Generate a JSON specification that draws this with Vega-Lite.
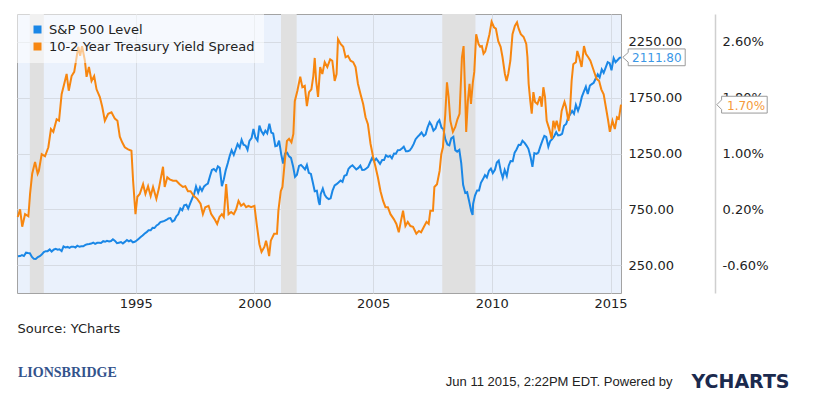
{
  "$schema": "https://vega.github.io/schema/vega-lite/v6.json",
  "width": 604,
  "height": 279,
  "autosize": {"type": "none"},
  "padding": {"left": 17, "top": 14, "right": 206, "bottom": 106},
  "background": "white",
  "config": {
    "view": {"fill": "#eaf1fc", "stroke": "#a3a3a3", "strokeWidth": 1},
    "font": "DejaVu Sans"
  },
  "title": {
    "text": "LIONSBRIDGE",
    "orient": "top",
    "anchor": "start",
    "frame": "group",
    "offset": 0,
    "dx": 1,
    "dy": 366,
    "font": "Liberation Serif",
    "fontSize": 14,
    "fontWeight": "bold",
    "color": "#33538c"
  },
  "datasets": {
    "recessions": [
      {"start": 1990.54, "end": 1991.13},
      {"start": 2001.12, "end": 2001.78},
      {"start": 2007.91, "end": 2009.31}
    ],
    "sp": [
      {"t":1990.04,"v":329},{"t":1990.13,"v":331},{"t":1990.21,"v":339},{"t":1990.29,"v":331},{"t":1990.38,"v":361},{"t":1990.46,"v":358},{"t":1990.54,"v":356},{"t":1990.63,"v":323},{"t":1990.71,"v":306},{"t":1990.79,"v":304},{"t":1990.88,"v":322},{"t":1990.96,"v":330},
      {"t":1991.04,"v":344},{"t":1991.13,"v":367},{"t":1991.21,"v":375},{"t":1991.29,"v":375},{"t":1991.38,"v":390},{"t":1991.46,"v":371},{"t":1991.54,"v":388},{"t":1991.63,"v":395},{"t":1991.71,"v":388},{"t":1991.79,"v":392},{"t":1991.88,"v":375},{"t":1991.96,"v":417},
      {"t":1992.04,"v":409},{"t":1992.13,"v":413},{"t":1992.21,"v":404},{"t":1992.29,"v":415},{"t":1992.38,"v":415},{"t":1992.46,"v":408},{"t":1992.54,"v":424},{"t":1992.63,"v":414},{"t":1992.71,"v":418},{"t":1992.79,"v":419},{"t":1992.88,"v":431},{"t":1992.96,"v":436},
      {"t":1993.04,"v":439},{"t":1993.13,"v":443},{"t":1993.21,"v":452},{"t":1993.29,"v":440},{"t":1993.38,"v":450},{"t":1993.46,"v":451},{"t":1993.54,"v":448},{"t":1993.63,"v":464},{"t":1993.71,"v":459},{"t":1993.79,"v":468},{"t":1993.88,"v":462},{"t":1993.96,"v":466},
      {"t":1994.04,"v":482},{"t":1994.13,"v":467},{"t":1994.21,"v":446},{"t":1994.29,"v":451},{"t":1994.38,"v":457},{"t":1994.46,"v":444},{"t":1994.54,"v":458},{"t":1994.63,"v":475},{"t":1994.71,"v":463},{"t":1994.79,"v":472},{"t":1994.88,"v":454},{"t":1994.96,"v":459},
      {"t":1995.04,"v":470},{"t":1995.13,"v":487},{"t":1995.21,"v":501},{"t":1995.29,"v":515},{"t":1995.38,"v":533},{"t":1995.46,"v":545},{"t":1995.54,"v":562},{"t":1995.63,"v":562},{"t":1995.71,"v":584},{"t":1995.79,"v":582},{"t":1995.88,"v":605},{"t":1995.96,"v":616},
      {"t":1996.04,"v":636},{"t":1996.13,"v":641},{"t":1996.21,"v":646},{"t":1996.29,"v":654},{"t":1996.38,"v":669},{"t":1996.46,"v":671},{"t":1996.54,"v":640},{"t":1996.63,"v":652},{"t":1996.71,"v":687},{"t":1996.79,"v":705},{"t":1996.88,"v":757},{"t":1996.96,"v":741},
      {"t":1997.04,"v":786},{"t":1997.13,"v":791},{"t":1997.21,"v":757},{"t":1997.29,"v":801},{"t":1997.38,"v":848},{"t":1997.46,"v":885},{"t":1997.54,"v":954},{"t":1997.63,"v":899},{"t":1997.71,"v":947},{"t":1997.79,"v":915},{"t":1997.88,"v":955},{"t":1997.96,"v":970},
      {"t":1998.04,"v":980},{"t":1998.13,"v":1049},{"t":1998.21,"v":1102},{"t":1998.29,"v":1112},{"t":1998.38,"v":1091},{"t":1998.46,"v":1134},{"t":1998.54,"v":1121},{"t":1998.63,"v":957},{"t":1998.71,"v":1017},{"t":1998.79,"v":1099},{"t":1998.88,"v":1164},{"t":1998.96,"v":1229},
      {"t":1999.04,"v":1280},{"t":1999.13,"v":1238},{"t":1999.21,"v":1286},{"t":1999.29,"v":1335},{"t":1999.38,"v":1302},{"t":1999.46,"v":1373},{"t":1999.54,"v":1329},{"t":1999.63,"v":1320},{"t":1999.71,"v":1283},{"t":1999.79,"v":1363},{"t":1999.88,"v":1389},{"t":1999.96,"v":1469},
      {"t":2000.04,"v":1394},{"t":2000.13,"v":1366},{"t":2000.21,"v":1499},{"t":2000.29,"v":1452},{"t":2000.38,"v":1421},{"t":2000.46,"v":1455},{"t":2000.54,"v":1431},{"t":2000.63,"v":1518},{"t":2000.71,"v":1437},{"t":2000.79,"v":1429},{"t":2000.88,"v":1315},{"t":2000.96,"v":1320},
      {"t":2001.04,"v":1366},{"t":2001.13,"v":1240},{"t":2001.21,"v":1160},{"t":2001.29,"v":1249},{"t":2001.38,"v":1256},{"t":2001.46,"v":1224},{"t":2001.54,"v":1211},{"t":2001.63,"v":1134},{"t":2001.71,"v":1041},{"t":2001.79,"v":1060},{"t":2001.88,"v":1139},{"t":2001.96,"v":1148},
      {"t":2002.04,"v":1130},{"t":2002.13,"v":1107},{"t":2002.21,"v":1147},{"t":2002.29,"v":1077},{"t":2002.38,"v":1067},{"t":2002.46,"v":990},{"t":2002.54,"v":912},{"t":2002.63,"v":916},{"t":2002.71,"v":815},{"t":2002.75,"v":790},{"t":2002.79,"v":886},{"t":2002.88,"v":936},{"t":2002.96,"v":880},
      {"t":2003.04,"v":856},{"t":2003.13,"v":841},{"t":2003.21,"v":848},{"t":2003.29,"v":917},{"t":2003.38,"v":964},{"t":2003.46,"v":975},{"t":2003.54,"v":990},{"t":2003.63,"v":1008},{"t":2003.71,"v":996},{"t":2003.79,"v":1051},{"t":2003.88,"v":1058},{"t":2003.96,"v":1112},
      {"t":2004.04,"v":1131},{"t":2004.13,"v":1145},{"t":2004.21,"v":1126},{"t":2004.29,"v":1107},{"t":2004.38,"v":1121},{"t":2004.46,"v":1141},{"t":2004.54,"v":1102},{"t":2004.63,"v":1104},{"t":2004.71,"v":1115},{"t":2004.79,"v":1130},{"t":2004.88,"v":1174},{"t":2004.96,"v":1212},
      {"t":2005.04,"v":1181},{"t":2005.13,"v":1204},{"t":2005.21,"v":1181},{"t":2005.29,"v":1157},{"t":2005.38,"v":1192},{"t":2005.46,"v":1191},{"t":2005.54,"v":1234},{"t":2005.63,"v":1220},{"t":2005.71,"v":1229},{"t":2005.79,"v":1207},{"t":2005.88,"v":1249},{"t":2005.96,"v":1248},
      {"t":2006.04,"v":1280},{"t":2006.13,"v":1281},{"t":2006.21,"v":1295},{"t":2006.29,"v":1311},{"t":2006.38,"v":1270},{"t":2006.46,"v":1270},{"t":2006.54,"v":1277},{"t":2006.63,"v":1304},{"t":2006.71,"v":1336},{"t":2006.79,"v":1378},{"t":2006.88,"v":1401},{"t":2006.96,"v":1418},
      {"t":2007.04,"v":1438},{"t":2007.13,"v":1407},{"t":2007.21,"v":1421},{"t":2007.29,"v":1482},{"t":2007.38,"v":1531},{"t":2007.46,"v":1503},{"t":2007.54,"v":1455},{"t":2007.63,"v":1474},{"t":2007.71,"v":1527},{"t":2007.79,"v":1549},{"t":2007.88,"v":1481},{"t":2007.96,"v":1468},
      {"t":2008.04,"v":1379},{"t":2008.13,"v":1331},{"t":2008.21,"v":1323},{"t":2008.29,"v":1386},{"t":2008.38,"v":1400},{"t":2008.46,"v":1280},{"t":2008.54,"v":1267},{"t":2008.63,"v":1283},{"t":2008.71,"v":1165},{"t":2008.79,"v":969},{"t":2008.88,"v":896},{"t":2008.96,"v":903},
      {"t":2009.04,"v":826},{"t":2009.13,"v":735},{"t":2009.19,"v":700},{"t":2009.21,"v":798},{"t":2009.29,"v":873},{"t":2009.38,"v":919},{"t":2009.46,"v":919},{"t":2009.54,"v":987},{"t":2009.63,"v":1021},{"t":2009.71,"v":1057},{"t":2009.79,"v":1036},{"t":2009.88,"v":1096},{"t":2009.96,"v":1115},
      {"t":2010.04,"v":1074},{"t":2010.13,"v":1104},{"t":2010.21,"v":1169},{"t":2010.29,"v":1187},{"t":2010.38,"v":1089},{"t":2010.46,"v":1031},{"t":2010.54,"v":1102},{"t":2010.63,"v":1049},{"t":2010.71,"v":1141},{"t":2010.79,"v":1183},{"t":2010.88,"v":1181},{"t":2010.96,"v":1258},
      {"t":2011.04,"v":1286},{"t":2011.13,"v":1327},{"t":2011.21,"v":1326},{"t":2011.29,"v":1364},{"t":2011.38,"v":1345},{"t":2011.46,"v":1321},{"t":2011.54,"v":1292},{"t":2011.63,"v":1219},{"t":2011.71,"v":1131},{"t":2011.79,"v":1253},{"t":2011.88,"v":1247},{"t":2011.96,"v":1258},
      {"t":2012.04,"v":1312},{"t":2012.13,"v":1366},{"t":2012.21,"v":1408},{"t":2012.29,"v":1398},{"t":2012.38,"v":1310},{"t":2012.46,"v":1362},{"t":2012.54,"v":1379},{"t":2012.63,"v":1407},{"t":2012.71,"v":1441},{"t":2012.79,"v":1412},{"t":2012.88,"v":1416},{"t":2012.96,"v":1426},
      {"t":2013.04,"v":1498},{"t":2013.13,"v":1515},{"t":2013.21,"v":1569},{"t":2013.29,"v":1598},{"t":2013.38,"v":1631},{"t":2013.46,"v":1606},{"t":2013.54,"v":1686},{"t":2013.63,"v":1633},{"t":2013.71,"v":1682},{"t":2013.79,"v":1757},{"t":2013.88,"v":1806},{"t":2013.96,"v":1848},
      {"t":2014.04,"v":1783},{"t":2014.13,"v":1859},{"t":2014.21,"v":1872},{"t":2014.29,"v":1884},{"t":2014.38,"v":1924},{"t":2014.46,"v":1960},{"t":2014.54,"v":1931},{"t":2014.63,"v":2003},{"t":2014.71,"v":1972},{"t":2014.79,"v":2018},{"t":2014.88,"v":2068},{"t":2014.96,"v":2059},
      {"t":2015.04,"v":1995},{"t":2015.13,"v":2105},{"t":2015.21,"v":2068},{"t":2015.29,"v":2086},{"t":2015.38,"v":2107},{"t":2015.44,"v":2111.8}
    ],
    "spread": [
      {"t":1990.03,"v":0.09},{"t":1990.13,"v":0.20},{"t":1990.22,"v":-0.05},{"t":1990.34,"v":0.13},{"t":1990.48,"v":0.10},{"t":1990.55,"v":0.42},{"t":1990.64,"v":0.71},{"t":1990.76,"v":0.88},{"t":1990.87,"v":0.71},{"t":1990.92,"v":0.75},
      {"t":1991.04,"v":0.99},{"t":1991.18,"v":0.96},{"t":1991.32,"v":1.09},{"t":1991.43,"v":1.35},{"t":1991.53,"v":1.31},{"t":1991.67,"v":1.49},{"t":1991.77,"v":1.47},{"t":1991.88,"v":1.85},{"t":1991.99,"v":2.00},
      {"t":1992.09,"v":2.14},{"t":1992.18,"v":1.90},{"t":1992.30,"v":2.11},{"t":1992.41,"v":2.17},{"t":1992.51,"v":2.38},{"t":1992.58,"v":2.53},{"t":1992.66,"v":2.40},{"t":1992.74,"v":2.54},{"t":1992.86,"v":2.33},{"t":1992.93,"v":2.10},
      {"t":1993.03,"v":2.24},{"t":1993.14,"v":2.04},{"t":1993.25,"v":2.11},{"t":1993.35,"v":1.92},{"t":1993.49,"v":1.81},{"t":1993.59,"v":1.67},{"t":1993.70,"v":1.47},{"t":1993.84,"v":1.57},{"t":1993.98,"v":1.59},
      {"t":1994.12,"v":1.50},{"t":1994.23,"v":1.47},{"t":1994.33,"v":1.24},{"t":1994.43,"v":1.16},{"t":1994.54,"v":1.09},{"t":1994.68,"v":1.06},{"t":1994.82,"v":1.04},{"t":1994.89,"v":0.61},{"t":1994.99,"v":0.13},
      {"t":1995.07,"v":0.38},{"t":1995.17,"v":0.42},{"t":1995.31,"v":0.56},{"t":1995.41,"v":0.42},{"t":1995.52,"v":0.53},{"t":1995.63,"v":0.39},{"t":1995.73,"v":0.52},{"t":1995.87,"v":0.35},{"t":1995.97,"v":0.49},
      {"t":1996.15,"v":0.81},{"t":1996.22,"v":0.52},{"t":1996.33,"v":0.66},{"t":1996.43,"v":0.63},{"t":1996.57,"v":0.61},{"t":1996.71,"v":0.61},{"t":1996.85,"v":0.56},{"t":1996.99,"v":0.52},
      {"t":1997.09,"v":0.53},{"t":1997.20,"v":0.46},{"t":1997.31,"v":0.46},{"t":1997.45,"v":0.39},{"t":1997.59,"v":0.35},{"t":1997.73,"v":0.28},{"t":1997.83,"v":0.13},{"t":1997.93,"v":0.23},
      {"t":1998.07,"v":0.25},{"t":1998.18,"v":0.13},{"t":1998.32,"v":0.06},{"t":1998.43,"v":-0.01},{"t":1998.53,"v":0.09},{"t":1998.63,"v":0.13},{"t":1998.71,"v":0.09},{"t":1998.81,"v":0.56},{"t":1998.91,"v":0.13},
      {"t":1999.02,"v":0.16},{"t":1999.13,"v":0.13},{"t":1999.23,"v":0.20},{"t":1999.33,"v":0.32},{"t":1999.44,"v":0.25},{"t":1999.55,"v":0.28},{"t":1999.65,"v":0.23},{"t":1999.75,"v":0.25},{"t":1999.86,"v":0.23},
      {"t":2000.00,"v":0.25},{"t":2000.11,"v":-0.05},{"t":2000.21,"v":-0.30},{"t":2000.30,"v":-0.41},{"t":2000.42,"v":-0.34},{"t":2000.49,"v":-0.25},{"t":2000.55,"v":-0.34},{"t":2000.62,"v":-0.47},{"t":2000.69,"v":-0.25},{"t":2000.83,"v":-0.15},{"t":2000.95,"v":-0.15},
      {"t":2001.01,"v":0.18},{"t":2001.11,"v":0.46},{"t":2001.18,"v":0.52},{"t":2001.28,"v":0.89},{"t":2001.37,"v":1.18},{"t":2001.46,"v":1.21},{"t":2001.56,"v":1.16},{"t":2001.64,"v":1.28},{"t":2001.70,"v":1.75},{"t":2001.81,"v":1.90},{"t":2001.93,"v":2.10},
      {"t":2002.02,"v":1.95},{"t":2002.12,"v":1.97},{"t":2002.21,"v":1.68},{"t":2002.30,"v":1.88},{"t":2002.40,"v":1.92},{"t":2002.48,"v":2.11},{"t":2002.54,"v":2.37},{"t":2002.60,"v":2.04},{"t":2002.68,"v":1.81},{"t":2002.77,"v":2.24},{"t":2002.86,"v":2.14},{"t":2002.96,"v":2.31},
      {"t":2003.07,"v":2.24},{"t":2003.19,"v":2.35},{"t":2003.28,"v":2.33},{"t":2003.38,"v":2.04},{"t":2003.46,"v":2.14},{"t":2003.52,"v":2.64},{"t":2003.63,"v":2.57},{"t":2003.74,"v":2.53},{"t":2003.84,"v":2.38},{"t":2003.94,"v":2.40},
      {"t":2004.05,"v":2.33},{"t":2004.16,"v":2.31},{"t":2004.26,"v":2.24},{"t":2004.36,"v":2.00},{"t":2004.47,"v":1.85},{"t":2004.58,"v":1.71},{"t":2004.68,"v":1.52},{"t":2004.78,"v":1.42},{"t":2004.89,"v":1.14},
      {"t":2005.00,"v":0.95},{"t":2005.10,"v":0.81},{"t":2005.20,"v":0.66},{"t":2005.31,"v":0.46},{"t":2005.42,"v":0.32},{"t":2005.52,"v":0.23},{"t":2005.62,"v":0.23},{"t":2005.73,"v":0.13},{"t":2005.87,"v":0.06},{"t":2005.98,"v":-0.01},
      {"t":2006.08,"v":-0.13},{"t":2006.17,"v":0.03},{"t":2006.26,"v":0.18},{"t":2006.36,"v":-0.04},{"t":2006.46,"v":0.02},{"t":2006.57,"v":-0.04},{"t":2006.68,"v":-0.05},{"t":2006.82,"v":-0.15},{"t":2006.93,"v":-0.11},
      {"t":2007.02,"v":-0.13},{"t":2007.14,"v":-0.05},{"t":2007.25,"v":0.02},{"t":2007.34,"v":-0.01},{"t":2007.41,"v":0.18},{"t":2007.52,"v":0.18},{"t":2007.58,"v":0.52},{"t":2007.69,"v":0.56},{"t":2007.80,"v":0.75},{"t":2007.87,"v":0.99},{"t":2007.94,"v":1.09},
      {"t":2008.04,"v":1.57},{"t":2008.11,"v":2.02},{"t":2008.18,"v":1.81},{"t":2008.25,"v":1.47},{"t":2008.36,"v":1.31},{"t":2008.46,"v":1.38},{"t":2008.55,"v":1.49},{"t":2008.64,"v":1.57},{"t":2008.74,"v":2.38},{"t":2008.81,"v":2.54},{"t":2008.88,"v":1.81},{"t":2008.92,"v":1.31},{"t":2008.99,"v":1.75},
      {"t":2009.06,"v":2.00},{"t":2009.12,"v":1.71},{"t":2009.20,"v":2.02},{"t":2009.26,"v":2.17},{"t":2009.34,"v":2.71},{"t":2009.44,"v":2.57},{"t":2009.51,"v":2.53},{"t":2009.58,"v":2.54},{"t":2009.65,"v":2.43},{"t":2009.72,"v":2.46},{"t":2009.78,"v":2.54},{"t":2009.90,"v":2.71},{"t":2009.99,"v":2.89},
      {"t":2010.09,"v":2.81},{"t":2010.17,"v":2.79},{"t":2010.27,"v":2.61},{"t":2010.37,"v":2.53},{"t":2010.45,"v":2.38},{"t":2010.55,"v":2.14},{"t":2010.62,"v":2.04},{"t":2010.69,"v":2.14},{"t":2010.78,"v":2.33},{"t":2010.87,"v":2.71},{"t":2010.97,"v":2.83},
      {"t":2011.06,"v":2.88},{"t":2011.13,"v":2.79},{"t":2011.22,"v":2.71},{"t":2011.34,"v":2.67},{"t":2011.45,"v":2.57},{"t":2011.50,"v":2.38},{"t":2011.55,"v":2.00},{"t":2011.62,"v":1.75},{"t":2011.68,"v":1.57},{"t":2011.75,"v":1.88},{"t":2011.82,"v":1.74},{"t":2011.92,"v":1.71},
      {"t":2012.03,"v":1.82},{"t":2012.10,"v":1.67},{"t":2012.17,"v":1.95},{"t":2012.24,"v":1.81},{"t":2012.31,"v":1.47},{"t":2012.42,"v":1.35},{"t":2012.52,"v":1.21},{"t":2012.59,"v":1.47},{"t":2012.66,"v":1.38},{"t":2012.73,"v":1.47},{"t":2012.84,"v":1.32},{"t":2012.94,"v":1.61},
      {"t":2013.06,"v":1.74},{"t":2013.12,"v":1.67},{"t":2013.22,"v":1.47},{"t":2013.29,"v":1.61},{"t":2013.36,"v":2.04},{"t":2013.43,"v":2.28},{"t":2013.54,"v":2.31},{"t":2013.60,"v":2.47},{"t":2013.68,"v":2.38},{"t":2013.78,"v":2.24},{"t":2013.88,"v":2.54},{"t":2013.96,"v":2.43},
      {"t":2014.06,"v":2.38},{"t":2014.15,"v":2.33},{"t":2014.24,"v":2.24},{"t":2014.34,"v":2.14},{"t":2014.41,"v":2.07},{"t":2014.52,"v":2.04},{"t":2014.61,"v":1.92},{"t":2014.71,"v":1.85},{"t":2014.80,"v":1.67},{"t":2014.90,"v":1.47},{"t":2014.97,"v":1.31},
      {"t":2015.08,"v":1.47},{"t":2015.18,"v":1.35},{"t":2015.27,"v":1.52},{"t":2015.35,"v":1.50},{"t":2015.44,"v":1.70}
    ]
  },
  "layer": [
    {
      "data": {"name": "recessions"},
      "mark": {"type": "rect", "color": "#e0e0e0"},
      "encoding": {
        "x": {
          "field": "start",
          "type": "quantitative",
          "scale": {"domain": [1990, 2015.44], "nice": false, "zero": false},
          "axis": {
            "values": [1995, 2000, 2005, 2010, 2015],
            "format": "d",
            "grid": true,
            "gridColor": "#d6dbe3",
            "domain": false,
            "ticks": false,
            "labelFlush": false,
            "labelPadding": 4,
            "labelFont": "DejaVu Sans",
            "labelFontSize": 13,
            "labelColor": "#222222",
            "title": "Source: YCharts",
            "titleX": 0,
            "titleY": 35,
            "titleAlign": "left",
            "titleAnchor": "start",
            "titleBaseline": "middle",
            "titleFont": "DejaVu Sans",
            "titleFontSize": 13,
            "titleFontWeight": "normal",
            "titleColor": "#222222"
          }
        },
        "x2": {"field": "end"}
      }
    },
    {
      "data": {"name": "sp"},
      "layer": [
        {
          "mark": {"type": "line", "strokeWidth": 2},
          "encoding": {
            "x": {"field": "t", "type": "quantitative"},
            "y": {
              "field": "v",
              "type": "quantitative",
              "scale": {"domain": [0, 2500], "nice": false, "zero": false},
              "axis": {
                "orient": "right",
                "values": [250, 750, 1250, 1750, 2250],
                "format": ".2f",
                "grid": true,
                "gridColor": "#d6dbe3",
                "domain": false,
                "ticks": false,
                "labelPadding": 7,
                "labelFont": "DejaVu Sans",
                "labelFontSize": 13,
                "labelColor": "#222222",
                "title": "Jun 11 2015, 2:22PM EDT. Powered by",
                "titleAngle": 0,
                "titleX": 51,
                "titleY": 367,
                "titleAlign": "right",
                "titleBaseline": "middle",
                "titleFont": "Liberation Sans",
                "titleFontSize": 13,
                "titleFontWeight": "normal",
                "titleColor": "#222222"
              }
            },
            "color": {
              "datum": "S&P 500 Level",
              "type": "nominal",
              "scale": {
                "domain": ["S&P 500 Level", "10-2 Year Treasury Yield Spread"],
                "range": ["#1a87e6", "#f7860f"]
              },
              "legend": {
                "orient": "none",
                "legendX": 0,
                "legendY": 0,
                "title": null,
                "symbolType": "square",
                "symbolSize": 64,
                "symbolStrokeWidth": 0,
                "symbolOffset": 5,
                "labelOffset": 5,
                "labelLimit": 400,
                "labelFont": "DejaVu Sans",
                "labelFontSize": 13,
                "labelColor": "#222222",
                "fillColor": "rgba(255,255,255,0.55)",
                "padding": 9,
                "rowPadding": 3,
                "encode": {
                  "symbols": {
                    "update": {
                      "fill": {"scale": "color", "field": "value"},
                      "strokeWidth": {"value": 0}
                    }
                  }
                }
              }
            }
          }
        },
        {
          "transform": [{"filter": "datum.t > 2015.43"}],
          "mark": {
            "type": "point",
            "shape": "M0.03,0 L0.12,-0.08 L0.12,-0.14 L1.07,-0.14 L1.07,0.14 L0.12,0.14 L0.12,0.08 Z",
            "size": 14400,
            "filled": true,
            "fill": "white",
            "stroke": "#9a9a9a",
            "strokeWidth": 1,
            "opacity": 1
          },
          "encoding": {
            "x": {"field": "t", "type": "quantitative"},
            "y": {"field": "v", "type": "quantitative"}
          }
        },
        {
          "transform": [{"filter": "datum.t > 2015.43"}],
          "mark": {
            "type": "text",
            "align": "left",
            "baseline": "middle",
            "dx": 11,
            "dy": 1,
            "font": "DejaVu Sans",
            "fontSize": 12,
            "color": "#3b97e6"
          },
          "encoding": {
            "x": {"field": "t", "type": "quantitative"},
            "y": {"field": "v", "type": "quantitative"},
            "text": {"field": "v", "type": "quantitative", "format": ".2f"}
          }
        }
      ]
    },
    {
      "data": {"name": "spread"},
      "layer": [
        {
          "mark": {"type": "line", "strokeWidth": 2},
          "encoding": {
            "x": {"field": "t", "type": "quantitative"},
            "y": {
              "field": "v",
              "type": "quantitative",
              "scale": {"domain": [-1, 3], "nice": false, "zero": false},
              "axis": {
                "orient": "right",
                "offset": 94,
                "values": [-0.6, 0.2, 1.0, 1.8, 2.6],
                "labelExpr": "replace(format(datum.value, '.2f'), '\u2212', '-') + '%'",
                "grid": false,
                "domain": true,
                "domainColor": "#cfcfcf",
                "domainWidth": 1.5,
                "ticks": false,
                "labelPadding": 7,
                "labelFont": "DejaVu Sans",
                "labelFontSize": 13,
                "labelColor": "#222222",
                "title": "YCHARTS",
                "titleAngle": 0,
                "titleX": 25,
                "titleY": 367,
                "titleAlign": "center",
                "titleBaseline": "middle",
                "titleFont": "DejaVu Sans",
                "titleFontSize": 19,
                "titleFontWeight": "bold",
                "titleColor": "#1b2a4e"
              }
            },
            "color": {"datum": "10-2 Year Treasury Yield Spread", "type": "nominal"}
          }
        },
        {
          "transform": [{"filter": "datum.t > 2015.43"}],
          "mark": {
            "type": "point",
            "shape": "M0.03,0 L0.11,-0.08 L0.11,-0.14 L0.87,-0.14 L0.87,0.14 L0.11,0.14 L0.11,0.08 Z",
            "size": 14400,
            "xOffset": 94,
            "filled": true,
            "fill": "white",
            "stroke": "#9a9a9a",
            "strokeWidth": 1,
            "opacity": 1
          },
          "encoding": {
            "x": {"field": "t", "type": "quantitative"},
            "y": {"field": "v", "type": "quantitative"}
          }
        },
        {
          "transform": [
            {"filter": "datum.t > 2015.43"},
            {"calculate": "format(datum.v, '.2f') + '%'", "as": "label"}
          ],
          "mark": {
            "type": "text",
            "align": "left",
            "baseline": "middle",
            "dx": 106,
            "dy": 1,
            "font": "DejaVu Sans",
            "fontSize": 12,
            "color": "#f59a3c"
          },
          "encoding": {
            "x": {"field": "t", "type": "quantitative"},
            "y": {"field": "v", "type": "quantitative"},
            "text": {"field": "label", "type": "nominal"}
          }
        }
      ]
    }
  ],
  "resolve": {"scale": {"y": "independent"}}
}
